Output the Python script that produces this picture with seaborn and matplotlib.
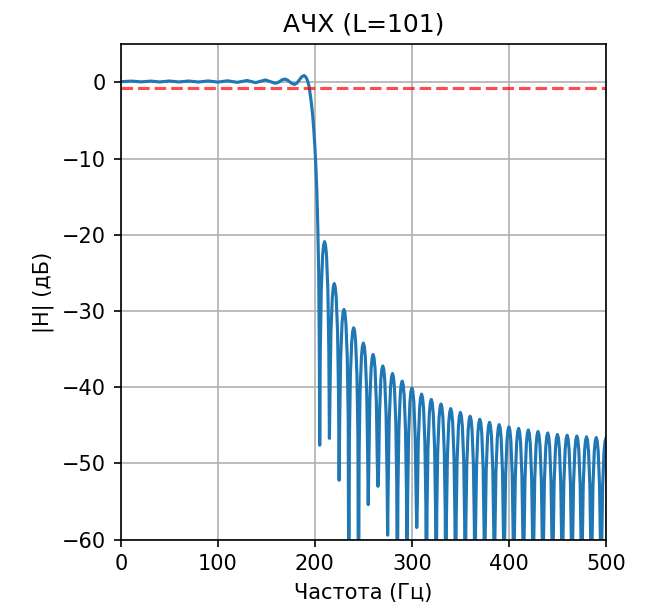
import numpy as np
import pandas as pd
import matplotlib
matplotlib.use("Agg")
import matplotlib.pyplot as plt
import seaborn as sns

# Values (frequency in Hz, magnitude in dB)
TAPS = 101
PASS_LEVEL_DB = -0.7

# passband ripple
PASS_FREQ_HZ = [0, 11, 21, 31, 40, 50, 60, 70, 80, 90, 100, 110, 120, 130, 139, 149,
                159, 161.5, 164, 166.5, 169, 171.5, 174, 176.5, 179, 181.5, 184, 186.5, 189]
PASS_MAG_DB = [0.08, 0.16, 0.06, 0.16, 0.05, 0.17, 0.05, 0.17, 0.04, 0.18, 0.03, 0.2, 0.0, 0.24, -0.04, 0.31,
               -0.12, -0.05, 0.13, 0.34, 0.42, 0.32, 0.075, -0.17, -0.27, -0.1, 0.32, 0.73, 0.9]

# transition band
TRANS_FREQ_HZ = [191, 193, 194, 195, 196, 197, 198, 199, 200, 201, 202, 203, 204, 204.6, 205]
TRANS_MAG_DB = [0.65, 0.0, -0.5, -1.4, -2.3, -3.4, -4.7, -6.4, -8.4, -11.0, -14.1, -18.8, -25.4, -36.0, -47.6]

# stopband side lobes, one row per lobe (rising edge, peak, falling edge, null)
STOP_FREQ_HZ = [
    205.6, 206.6, 208, 209, 210, 211, 212, 213.4, 214.4, 215,
    215.6, 216.6, 218, 219, 220, 221, 222, 223.4, 224.4, 225,
    225.6, 226.6, 228, 229, 230, 231, 232, 233.4, 234.4, 235,
    235.6, 236.6, 238, 239, 240, 241, 242, 243.4, 244.4, 245,
    245.6, 246.6, 248, 249, 250, 251, 252, 253.4, 254.4, 255,
    255.6, 256.6, 258, 259, 260, 261, 262, 263.4, 264.4, 265,
    265.6, 266.6, 268, 269, 270, 271, 272, 273.4, 274.4, 275,
    275.6, 276.6, 278, 279, 280, 281, 282, 283.4, 284.4, 285,
    285.6, 286.6, 288, 289, 290, 291, 292, 293.4, 294.4, 295,
    295.6, 296.6, 298, 299, 300, 301, 302, 303.4, 304.4, 305,
    305.6, 306.6, 308, 309, 310, 311, 312, 313.4, 314.4, 315,
    315.6, 316.6, 318, 319, 320, 321, 322, 323.4, 324.4, 325,
    325.6, 326.6, 328, 329, 330, 331, 332, 333.4, 334.4, 335,
    335.6, 336.6, 338, 339, 340, 341, 342, 343.4, 344.4, 345,
    345.6, 346.6, 348, 349, 350, 351, 352, 353.4, 354.4, 355,
    355.6, 356.6, 358, 359, 360, 361, 362, 363.4, 364.4, 365,
    365.6, 366.6, 368, 369, 370, 371, 372, 373.4, 374.4, 375,
    375.6, 376.6, 378, 379, 380, 381, 382, 383.4, 384.4, 385,
    385.6, 386.6, 388, 389, 390, 391, 392, 393.4, 394.4, 395,
    395.6, 396.6, 398, 399, 400, 401, 402, 403.4, 404.4, 405,
    405.6, 406.6, 408, 409, 410, 411, 412, 413.4, 414.4, 415,
    415.6, 416.6, 418, 419, 420, 421, 422, 423.4, 424.4, 425,
    425.6, 426.6, 428, 429, 430, 431, 432, 433.4, 434.4, 435,
    435.6, 436.6, 438, 439, 440, 441, 442, 443.4, 444.4, 445,
    445.6, 446.6, 448, 449, 450, 451, 452, 453.4, 454.4, 455,
    455.6, 456.6, 458, 459, 460, 461, 462, 463.4, 464.4, 465,
    465.6, 466.6, 468, 469, 470, 471, 472, 473.4, 474.4, 475,
    475.6, 476.6, 478, 479, 480, 481, 482, 483.4, 484.4, 485,
    485.6, 486.6, 488, 489, 490, 491, 492, 493.4, 494.4, 495,
    495.6, 496.6, 498, 499, 500,
]
STOP_MAG_DB = [
    -35.4, -27.2, -22.7, -21.35, -20.9, -21.35, -22.7, -27.2, -35.4, -46.7,
    -40.9, -32.7, -28.2, -26.85, -26.4, -26.85, -28.2, -32.7, -40.9, -52.2,
    -44.3, -36.1, -31.6, -30.25, -29.8, -30.25, -31.6, -36.1, -44.3, -75.0,
    -46.7, -38.5, -34.0, -32.65, -32.2, -32.65, -34.0, -38.5, -46.7, -78.0,
    -48.7, -40.5, -36.0, -34.65, -34.2, -34.65, -36.0, -40.5, -48.7, -55.4,
    -50.2, -42.0, -37.5, -36.15, -35.7, -36.15, -37.5, -42.0, -50.2, -53.0,
    -51.7, -43.5, -39.0, -37.65, -37.2, -37.65, -39.0, -43.5, -51.7, -59.4,
    -52.7, -44.5, -40.0, -38.65, -38.2, -38.65, -40.0, -44.5, -52.7, -72.0,
    -53.7, -45.5, -41.0, -39.65, -39.2, -39.65, -41.0, -45.5, -53.7, -70.0,
    -54.6, -46.4, -41.9, -40.55, -40.1, -40.55, -41.9, -46.4, -54.6, -58.4,
    -55.4, -47.2, -42.7, -41.35, -40.9, -41.35, -42.7, -47.2, -55.4, -80.0,
    -56.1, -47.9, -43.4, -42.05, -41.6, -42.05, -43.4, -47.9, -56.1, -80.0,
    -56.7, -48.5, -44.0, -42.65, -42.2, -42.65, -44.0, -48.5, -56.7, -80.0,
    -57.3, -49.1, -44.6, -43.25, -42.8, -43.25, -44.6, -49.1, -57.3, -80.0,
    -57.8, -49.6, -45.1, -43.75, -43.3, -43.75, -45.1, -49.6, -57.8, -80.0,
    -58.3, -50.1, -45.6, -44.25, -43.8, -44.25, -45.6, -50.1, -58.3, -80.0,
    -58.7, -50.5, -46.0, -44.65, -44.2, -44.65, -46.0, -50.5, -58.7, -80.0,
    -59.1, -50.9, -46.4, -45.05, -44.6, -45.05, -46.4, -50.9, -59.1, -80.0,
    -59.4, -51.2, -46.7, -45.35, -44.9, -45.35, -46.7, -51.2, -59.4, -80.0,
    -59.7, -51.5, -47.0, -45.65, -45.2, -45.65, -47.0, -51.5, -59.7, -80.0,
    -59.9, -51.7, -47.2, -45.85, -45.4, -45.85, -47.2, -51.7, -59.9, -80.0,
    -60.1, -51.9, -47.4, -46.05, -45.6, -46.05, -47.4, -51.9, -60.1, -80.0,
    -60.3, -52.1, -47.6, -46.25, -45.8, -46.25, -47.6, -52.1, -60.3, -80.0,
    -60.5, -52.3, -47.8, -46.45, -46.0, -46.45, -47.8, -52.3, -60.5, -80.0,
    -60.7, -52.5, -48.0, -46.65, -46.2, -46.65, -48.0, -52.5, -60.7, -80.0,
    -60.8, -52.6, -48.1, -46.75, -46.3, -46.75, -48.1, -52.6, -60.8, -80.0,
    -60.9, -52.7, -48.2, -46.85, -46.4, -46.85, -48.2, -52.7, -60.9, -80.0,
    -61.0, -52.8, -48.3, -46.95, -46.5, -46.95, -48.3, -52.8, -61.0, -80.0,
    -61.1, -52.9, -48.4, -47.05, -46.6, -47.05, -48.4, -52.9, -61.1, -80.0,
    -61.2, -53.0, -48.5, -47.15, -46.7,
]

df = pd.DataFrame({
    "freq": PASS_FREQ_HZ + TRANS_FREQ_HZ + STOP_FREQ_HZ,
    "db": PASS_MAG_DB + TRANS_MAG_DB + STOP_MAG_DB,
})

fig, ax = plt.subplots(figsize=(646 / 150, 614 / 150), dpi=150)
fig.subplots_adjust(left=0.187, right=0.938, top=0.928, bottom=0.121)

sns.lineplot(data=df, x="freq", y="db", estimator=None, sort=False,
             color="#1f77b4", linewidth=1.5, ax=ax)
ax.axhline(PASS_LEVEL_DB, color="r", linestyle="--", alpha=0.7, linewidth=1.5)

ax.set_xlim(0, 500)
ax.set_ylim(-60, 5)
ax.set_title(f"АЧХ (L={TAPS})")
ax.set_xlabel("Частота (Гц)")
ax.set_ylabel("|H| (дБ)")
ax.grid(True)

plt.savefig("out.png", dpi=150)
